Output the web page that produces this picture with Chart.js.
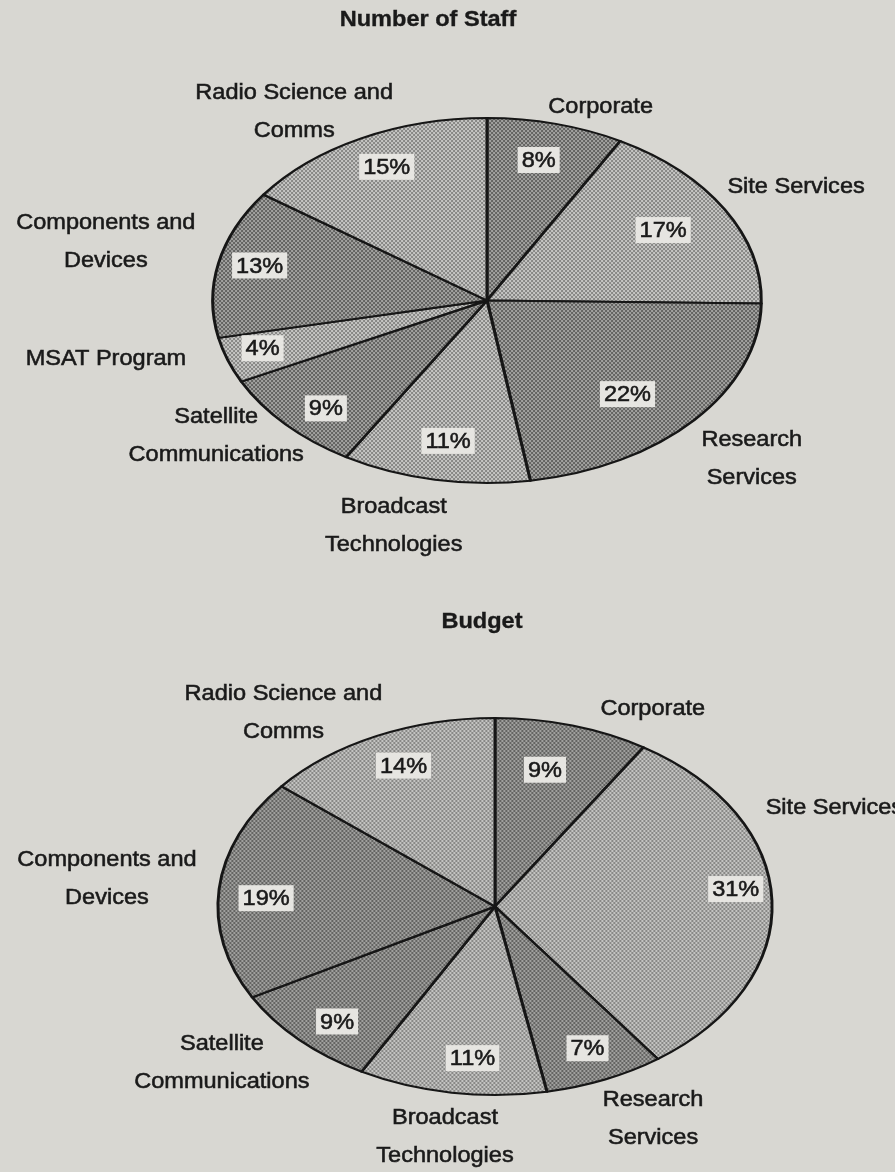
<!DOCTYPE html>
<html>
<head>
<meta charset="utf-8">
<title>Number of Staff / Budget</title>
<script src="https://cdn.jsdelivr.net/npm/chart.js@4.4.1/dist/chart.umd.min.js"></script>
<style>
  html, body { margin: 0; padding: 0; background: #d8d7d2; }
  .box { position: absolute; left: 0; width: 895px; }
  #staffBox { top: 0; height: 600px; }
  #budgetBox { top: 600px; height: 572px; }
</style>
</head>
<body>
<div class="box" id="staffBox"><canvas id="staffChart"></canvas></div>
<div class="box" id="budgetBox"><canvas id="budgetChart"></canvas></div>
<script>
// --- data ---
const staffLabels = [
  ['Corporate'], ['Site Services'], ['Research', 'Services'], ['Broadcast', 'Technologies'],
  ['Satellite', 'Communications'], ['MSAT Program'], ['Components and', 'Devices'], ['Radio Science and', 'Comms']
];
const staffValues = [8, 17, 22, 11, 9, 4, 13, 15];

const budgetLabels = [
  ['Corporate'], ['Site Services'], ['Research', 'Services'], ['Broadcast', 'Technologies'],
  ['Satellite', 'Communications'], ['Components and', 'Devices'], ['Radio Science and', 'Comms']
];
const budgetValues = [9, 31, 7, 11, 9, 19, 14];

// --- styling ---
const staffShades = ['dark', 'light', 'dark', 'light', 'dark', 'light', 'dark', 'light'];
const budgetShades = ['dark', 'light', 'dark', 'light', 'dark', 'dark', 'light'];

const FONT = '"Liberation Sans", Arial, Helvetica, sans-serif';
const TEXT_STRETCH = 1.07;
const INK = '#1a1a1a';

// dithered grey fill like the old printout
const makePattern = (c1, c2, stretch) => {
  const p = document.createElement('canvas');
  p.width = p.height = 4;
  const g = p.getContext('2d');
  g.fillStyle = c1;
  g.fillRect(0, 0, 4, 4);
  g.fillStyle = c2;
  g.fillRect(0, 0, 2, 2);
  g.fillRect(2, 2, 2, 2);
  const pat = g.createPattern(p, 'repeat');
  pat.setTransform(new DOMMatrix([1 / stretch, 0, 0, 1, 0, 0]));
  return pat;
};

const drawText = (ctx, text, x, y) => {
  ctx.save();
  ctx.translate(x, y);
  ctx.scale(TEXT_STRETCH, 1);
  ctx.fillText(text, 0, 0);
  ctx.strokeText(text, 0, 0);
  ctx.restore();
};

// squash the round pie into an ellipse, then put the labels on top
const ellipsePie = {
  id: 'ellipsePie',
  beforeDatasetsDraw(chart, args, opts) {
    const arc = chart.getDatasetMeta(0).data[0];
    const ctx = chart.ctx;
    ctx.save();
    ctx.translate(arc.x, arc.y);
    ctx.scale(opts.stretch, 1);
    ctx.translate(-arc.x, -arc.y);
  },
  afterDatasetsDraw(chart) {
    chart.ctx.restore();
  },
  afterDraw(chart, args, opts) {
    const ctx = chart.ctx;
    const meta = chart.getDatasetMeta(0);
    const values = chart.data.datasets[0].data;
    const labels = chart.data.labels;
    ctx.save();
    ctx.textAlign = 'center';
    ctx.textBaseline = 'middle';
    ctx.fillStyle = INK;
    ctx.strokeStyle = INK;
    ctx.lineWidth = 0.35;
    ctx.font = `bold 22px ${FONT}`;
    drawText(ctx, opts.title, meta.data[0].x + opts.titleDx, opts.titleY);

    ctx.font = `22px ${FONT}`;
    ctx.lineWidth = 0.55;
    meta.data.forEach((arc, i) => {
      const mid = (arc.startAngle + arc.endAngle) / 2;
      const r = arc.outerRadius;
      const at = (k, nudge) => ({
        x: arc.x + Math.cos(mid) * r * k * opts.stretch + nudge[0],
        y: arc.y + Math.sin(mid) * r * k + nudge[1]
      });

      const p = at(0.75, opts.pctNudge[i]);
      const txt = values[i] + '%';
      const w = ctx.measureText(txt).width * TEXT_STRETCH + 8;
      ctx.fillStyle = '#e6e5e1';
      ctx.fillRect(p.x - w / 2, p.y - 13, w, 26);
      ctx.fillStyle = INK;
      drawText(ctx, txt, p.x, p.y + 1);

      const lines = labels[i];
      const c = at(1.2, opts.labelNudge[i]);
      lines.forEach((line, j) => {
        drawText(ctx, line, c.x, c.y + (j - (lines.length - 1) / 2) * 38);
      });
    });
    ctx.restore();
  }
};

const makeChart = (id, labels, values, shades, style) => {
  const pats = {
    dark: makePattern('#a0a09e', '#646462', style.stretch),
    light: makePattern('#c4c4c2', '#888886', style.stretch)
  };
  return new Chart(document.getElementById(id), {
    type: 'pie',
    data: {
      labels,
      datasets: [{
        data: values,
        backgroundColor: shades.map(s => pats[s]),
        borderColor: '#161616',
        borderWidth: 2,
        borderJoinStyle: 'round',
        offset: 0,
        hoverOffset: 0
      }]
    },
    options: {
      responsive: true,
      maintainAspectRatio: false,
      animation: false,
      events: [],
      layout: { padding: style.padding },
      plugins: {
        legend: { display: false },
        tooltip: { enabled: false },
        title: { display: false },
        ellipsePie: style
      }
    },
    plugins: [ellipsePie]
  });
};

makeChart('staffChart', staffLabels, staffValues, staffShades, {
  title: 'Number of Staff',
  titleDx: -59,
  titleY: 20,
  stretch: 1.503,
  padding: { top: 117, bottom: 116, left: 179, right: 100 },
  pctNudge: [[0, -8], [-2, -2], [-15, 4], [0, 6], [-10, 15], [-30, 3], [-26, -7], [-6, -12]],
  labelNudge: [[31, 18], [24, -4], [16, 15], [-31, 10], [-29, -13], [-70, -13], [-59, -14], [-42, 6]]
});

makeChart('budgetChart', budgetLabels, budgetValues, budgetShades, {
  title: 'Budget',
  titleDx: -13,
  titleY: 22,
  stretch: 1.47,
  padding: { top: 117, bottom: 76, left: 195, right: 100 },
  pctNudge: [[-8, -1], [33, -13], [10, 12], [10, 12], [-11, 15], [-22, 5], [-3, -13]],
  labelNudge: [[65, 20], [7, -91], [26, 5], [2, 7], [-38, -4], [-57, -6], [-70, 11]]
});
</script>
</body>
</html>
